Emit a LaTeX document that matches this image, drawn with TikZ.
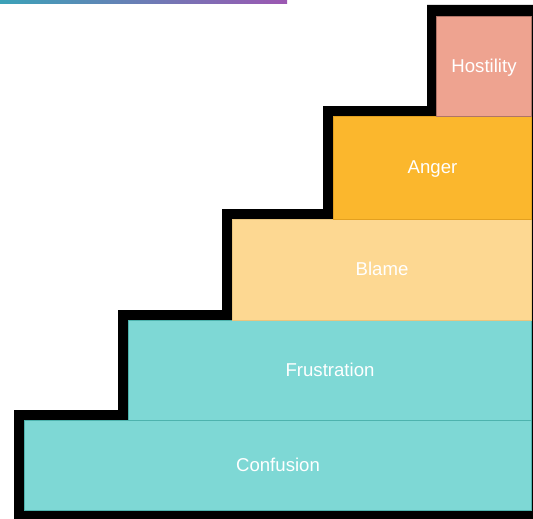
\documentclass[tikz,border=0pt]{standalone}
\usepackage{fontspec}
\setmainfont{Liberation Sans}
\begin{document}
\begin{tikzpicture}[x=1pt,y=-1pt,
  step box/.style={draw, line width=1pt, anchor=north west, inner sep=0pt,
    text height=13.4pt, text depth=2pt,
    text=white, font=\fontsize{18.6}{20}\selectfont},
  tealstep/.style={step box, fill=stepTeal, draw=stepTealEdge},
]
\definecolor{stepTeal}{HTML}{7ED8D5}
\definecolor{stepTealEdge}{HTML}{4DB3AE}
\definecolor{blameFill}{HTML}{FDD892}
\definecolor{blameEdge}{HTML}{E9C57E}
\definecolor{angerFill}{HTML}{FBB72D}
\definecolor{angerEdge}{HTML}{E3A020}
\definecolor{hostFill}{HTML}{EEA390}
\definecolor{hostEdge}{HTML}{B07468}
\definecolor{barLeft}{HTML}{3BA2B8}
\definecolor{barRight}{HTML}{9C57B2}

\useasboundingbox (0,0) rectangle (533,519);

% header bar
\shade[left color=barLeft, right color=barRight] (0,0) rectangle (287,4);

% black staircase outline behind the steps
\fill[black] (14,519) -- (14,410) -- (118,410) -- (118,310) -- (222,310)
  -- (222,209) -- (323,209) -- (323,106) -- (427,106) -- (427,5)
  -- (533,5) -- (533,519) -- cycle;

% steps
\node[tealstep, minimum width=507, minimum height=90] (conf) at (24,420) {Confusion};
\node[tealstep, minimum width=403, minimum height=100] (frus) at (128,320) {Frustration};
\node[step box, fill=blameFill, draw=blameEdge, minimum width=299, minimum height=101] (blame) at (232,219) {Blame};
\node[step box, fill=angerFill, draw=angerEdge, minimum width=198, minimum height=103] (anger) at (333,116) {Anger};
\node[step box, fill=hostFill, draw=hostEdge, minimum width=95, minimum height=100] (host) at (436,16) {Hostility};
\end{tikzpicture}
\end{document}
